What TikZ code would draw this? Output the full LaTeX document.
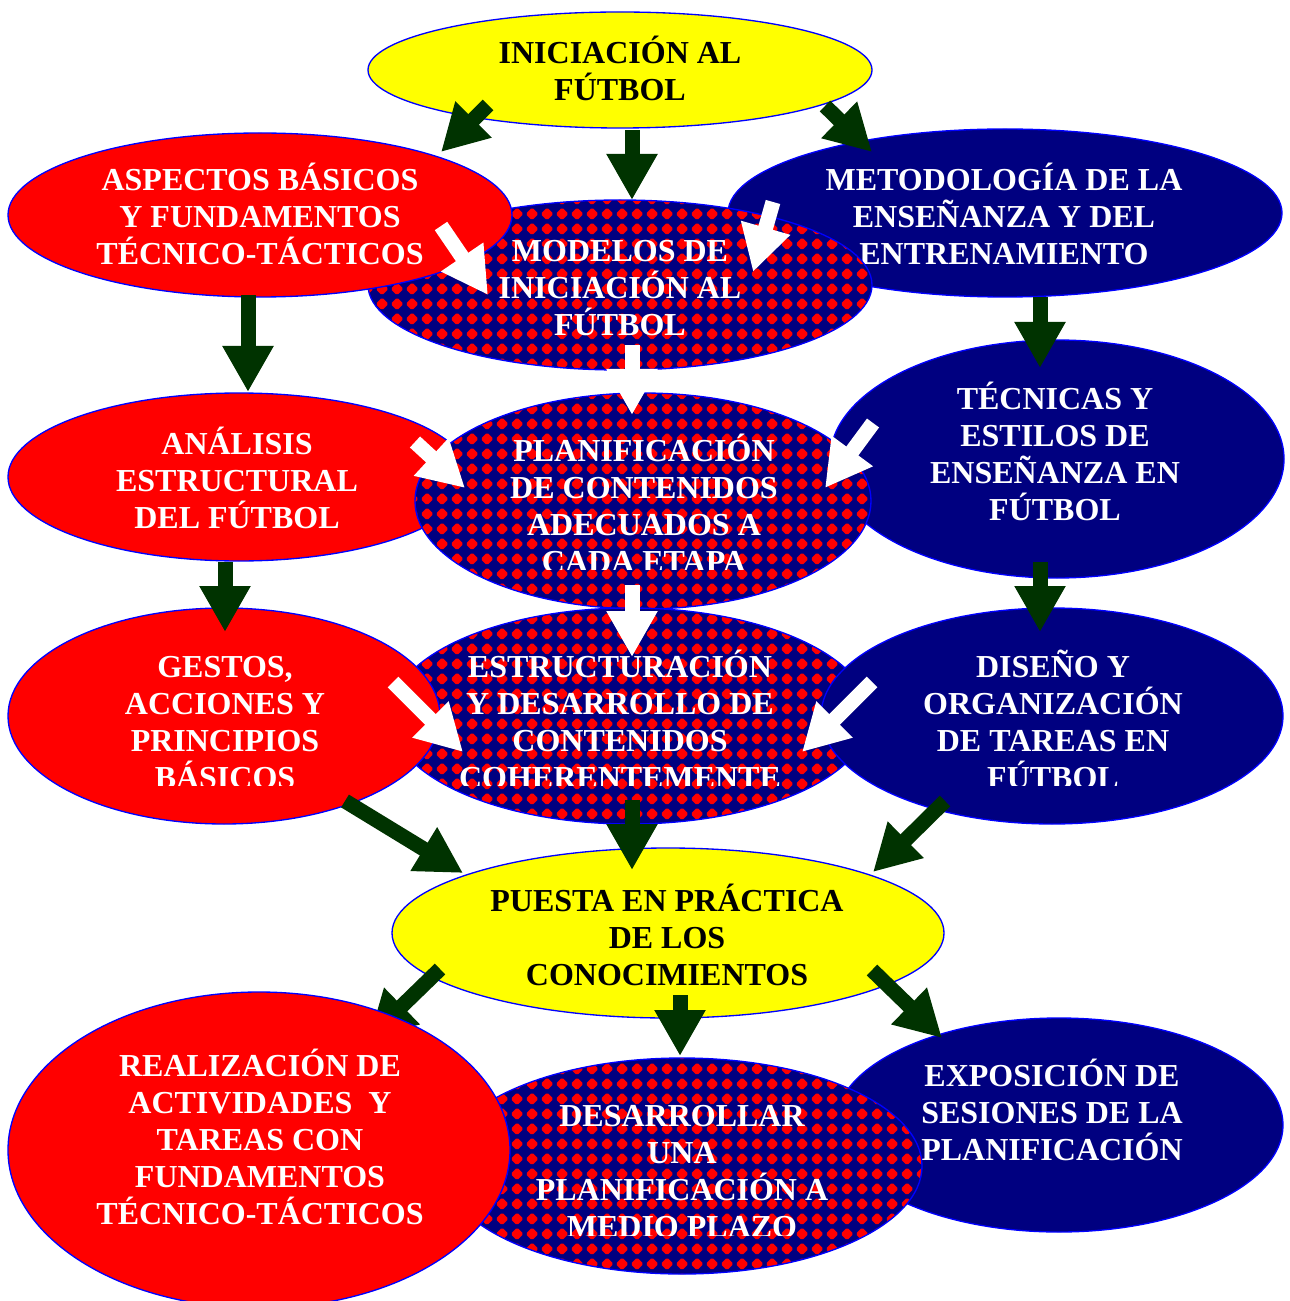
\documentclass[tikz,border=0pt]{standalone}
\usepackage{fontspec}
\setmainfont{Liberation Serif}
\usetikzlibrary{arrows.meta,shapes.geometric,patterns}

\definecolor{navyc}{RGB}{0,0,128}
\definecolor{redc}{RGB}{255,0,0}
\definecolor{yelc}{RGB}{255,255,0}
\definecolor{greenc}{RGB}{0,51,0}
\definecolor{bordc}{RGB}{0,0,255}

% one stepped-looking diamond (octagon) per 15px cell
\pgfdeclarepatternformonly{diagrid}{\pgfpointorigin}{\pgfpoint{11.25pt}{11.25pt}}{\pgfpoint{11.25pt}{11.25pt}}{%
  \pgfpathmoveto{\pgfpoint{4.7pt}{1.4pt}}%
  \pgfpathlineto{\pgfpoint{6.55pt}{1.4pt}}%
  \pgfpathlineto{\pgfpoint{9.85pt}{4.7pt}}%
  \pgfpathlineto{\pgfpoint{9.85pt}{6.55pt}}%
  \pgfpathlineto{\pgfpoint{6.55pt}{9.85pt}}%
  \pgfpathlineto{\pgfpoint{4.7pt}{9.85pt}}%
  \pgfpathlineto{\pgfpoint{1.4pt}{6.55pt}}%
  \pgfpathlineto{\pgfpoint{1.4pt}{4.7pt}}%
  \pgfpathclose
  \pgfusepath{fill}}

\newcommand\tstr{\rule{0pt}{23pt}}
\newcommand\bstr{\rule[-7pt]{0pt}{7pt}}

\tikzset{
  ell/.style={ellipse, draw=bordc, line width=1pt, inner sep=0pt},
  esize/.style 2 args={minimum width=#1*0.75pt, minimum height=#2*0.75pt},
  redell/.style={ell, fill=redc},
  navell/.style={ell, fill=navyc},
  yelell/.style={ell, fill=yelc},
  patell/.style={ell, preaction={fill=navyc}, pattern=diagrid, pattern color=redc},
  lbl/.style={align=center, inner sep=0pt, font=\bfseries\fontsize{24}{27.75}\selectfont},
  wlbl/.style={lbl, text=white},
  blbl/.style={lbl, text=black},
  garrow/.style={draw=greenc, line width=11.25pt, -{Triangle[width=36pt,length=34.5pt]}},
  warrow/.style={draw=white, line width=11.25pt, -{Triangle[width=36pt,length=34.5pt]}}
}

\begin{document}
\begin{tikzpicture}[x=0.75pt, y=-0.75pt]
\useasboundingbox (0,0) rectangle (1289,1301);

% top
\node[yelell, esize={504}{116}] (top) at (620,70) {};
\node[blbl] (ttop) at (620,71.5) {\tstr INICIACIÓN AL\\FÚTBOL\bstr};

% row 1
\node[navell, esize={554}{168}] (met) at (1005,213) {};
\node[wlbl] (tmet) at (1004,217) {\tstr METODOLOGÍA DE LA\\ENSEÑANZA Y DEL\\ENTRENAMIENTO\bstr};
\node[patell, esize={504}{170}] (mod) at (620,285) {};
\node[wlbl] (tmod) at (620,288) {\tstr MODELOS DE\\INICIACIÓN AL\\FÚTBOL\bstr};
\node[redell, esize={504}{164}] (asp) at (260,215) {};
\node[wlbl] (tasp) at (260,217) {\tstr ASPECTOS BÁSICOS\\Y FUNDAMENTOS\\TÉCNICO-TÁCTICOS\bstr};

% row 2
\node[redell, esize={462}{168}] (ana) at (239,477) {};
\node[wlbl] (tana) at (237,481) {\tstr ANÁLISIS\\ESTRUCTURAL\\DEL FÚTBOL\bstr};
\node[navell, esize={454}{238}] (tec) at (1057,459) {};
\node[wlbl] (ttec) at (1055,454.5) {\tstr TÉCNICAS Y\\ESTILOS DE\\ENSEÑANZA EN\\FÚTBOL\bstr};
\node[patell, esize={456}{216}] (plan) at (643,501) {};
\begin{scope}
  \clip (400,380) rectangle (890,569);
  \node[wlbl] (tplan) at (644,506) {\tstr PLANIFICACIÓN\\DE CONTENIDOS\\ADECUADOS A\\CADA ETAPA\bstr};
\end{scope}

% row 3
\node[patell, esize={480}{216}] (est) at (630,716) {};
\begin{scope}
  \clip (380,600) rectangle (880,785);
  \node[wlbl] (test) at (620,722.5) {\tstr ESTRUCTURACIÓN\\Y DESARROLLO DE\\CONTENIDOS\\COHERENTEMENTE\bstr};
\end{scope}
\node[redell, esize={432}{216}] (ges) at (224,716) {};
\begin{scope}
  \clip (0,600) rectangle (440,785);
  \node[wlbl] (tges) at (225,722.5) {\tstr GESTOS,\\ACCIONES Y\\PRINCIPIOS\\BÁSICOS\bstr};
\end{scope}
\node[navell, esize={462}{216}] (dis) at (1052,716) {};
\begin{scope}
  \clip (820,600) rectangle (1289,785);
  \node[wlbl] (tdis) at (1053,722.5) {\tstr DISEÑO Y\\ORGANIZACIÓN\\DE TAREAS EN\\FÚTBOL\bstr};
\end{scope}

% row 4
\node[yelell, esize={552}{170}] (pue) at (668,933) {};
\node[blbl] (tpue) at (667,937.5) {\tstr PUESTA EN PRÁCTICA\\DE LOS\\CONOCIMIENTOS\bstr};

% row 5
\node[navell, esize={448}{214}] (exp) at (1059,1125) {};
\node[wlbl] (texp) at (1052,1112.5) {\tstr EXPOSICIÓN DE\\SESIONES DE LA\\PLANIFICACIÓN\bstr};
\node[patell, esize={480}{216}] (des) at (682,1166) {};
\begin{scope}
  \clip (440,1050) rectangle (930,1235);
  \node[wlbl] (tdes) at (682,1171.5) {\tstr DESARROLLAR\\UNA\\PLANIFICACIÓN A\\MEDIO PLAZO\bstr};
\end{scope}

% arrow end points
\coordinate (g1s) at (488,105);  \coordinate (g1e) at (441,152);
\coordinate (g2s) at (632,130);  \coordinate (g2e) at (632,200);
\coordinate (g3s) at (825,106);  \coordinate (g3e) at (872,152);
\coordinate (g4s) at (248,295);  \coordinate (g4e) at (248,392);
\coordinate (g5s) at (1040,297); \coordinate (g5e) at (1040,368);
\coordinate (g6s) at (225,562);  \coordinate (g6e) at (225,632);
\coordinate (g7s) at (1040,562); \coordinate (g7e) at (1040,632);
\coordinate (g8s) at (345,801);  \coordinate (g8e) at (463,873);
\coordinate (g9s) at (632,800);  \coordinate (g9e) at (632,870);
\coordinate (g10s) at (945,801); \coordinate (g10e) at (873,872);
\coordinate (g11s) at (440,969); \coordinate (g11e) at (369,1038);
\coordinate (g12s) at (680,995); \coordinate (g12e) at (680,1056);
\coordinate (g13s) at (872,970); \coordinate (g13e) at (942,1038);
\coordinate (w1s) at (441,226);  \coordinate (w1e) at (488,295);
\coordinate (w2s) at (773,202);  \coordinate (w2e) at (753,272);
\coordinate (w3s) at (632,345);  \coordinate (w3e) at (632,415);
\coordinate (w4s) at (415,442);  \coordinate (w4e) at (465,488);
\coordinate (w5s) at (873,423);  \coordinate (w5e) at (825,488);
\coordinate (w6s) at (632,585);  \coordinate (w6e) at (632,657);
\coordinate (w7s) at (393,682);  \coordinate (w7e) at (463,752);
\coordinate (w8s) at (872,682);  \coordinate (w8e) at (802,752);

% green arrows
\draw[garrow] (g1s) -- (g1e);
\draw[garrow] (g2s) -- (g2e);
\draw[garrow] (g3s) -- (g3e);
\draw[garrow] (g4s) -- (g4e);
\draw[garrow] (g5s) -- (g5e);
\draw[garrow] (g6s) -- (g6e);
\draw[garrow] (g7s) -- (g7e);
\draw[garrow] (g8s) -- (g8e);
\draw[garrow] (g9s) -- (g9e);
\draw[garrow] (g10s) -- (g10e);
\draw[garrow] (g11s) -- (g11e);
\draw[garrow] (g12s) -- (g12e);
\draw[garrow] (g13s) -- (g13e);

% white arrows
\draw[warrow] (w1s) -- (w1e);
\draw[warrow] (w2s) -- (w2e);
\draw[warrow] (w3s) -- (w3e);
\draw[warrow] (w4s) -- (w4e);
\draw[warrow] (w5s) -- (w5e);
\draw[warrow] (w6s) -- (w6e);
\draw[warrow] (w7s) -- (w7e);
\draw[warrow] (w8s) -- (w8e);

% bottom left (drawn last, covers tip of one arrow)
\node[redell, esize={502}{316}] (rea) at (259,1150) {};
\node[wlbl] (trea) at (260,1139.6) {\tstr REALIZACIÓN DE\\ACTIVIDADES\ \ Y\\TAREAS CON\\FUNDAMENTOS\\TÉCNICO-TÁCTICOS\bstr};
\end{tikzpicture}
\end{document}
